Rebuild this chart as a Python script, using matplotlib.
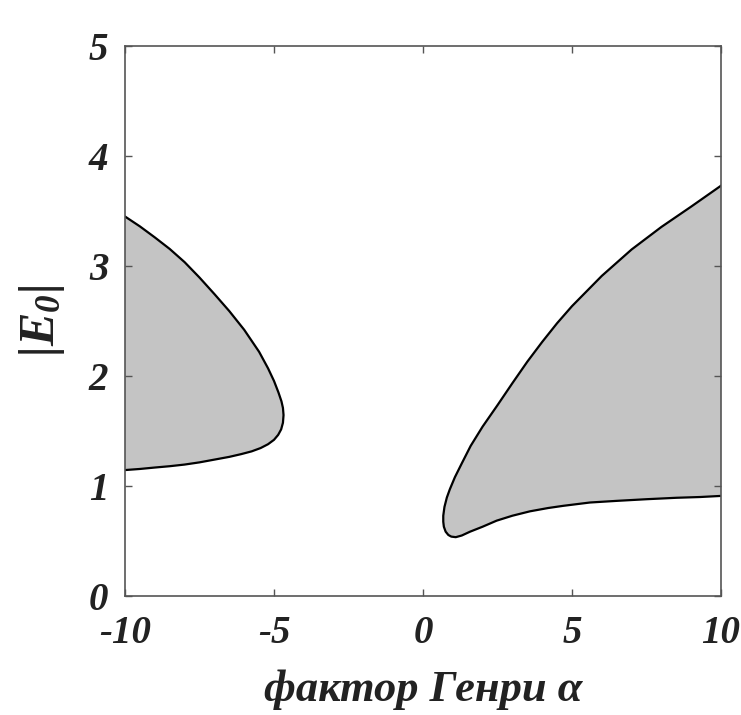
import matplotlib
matplotlib.use("Agg")
import matplotlib.pyplot as plt

# Left region boundary (upper branch -> tip -> lower branch)
left_alpha = [-10.0, -9.5, -9.0, -8.5, -8.0, -7.5, -7.0, -6.5, -6.0, -5.5, -5.2, -5.0,
              -4.85, -4.75, -4.70, -4.68, -4.70, -4.76, -4.86, -5.0, -5.2, -5.45, -5.75,
              -6.1, -6.5, -7.0, -7.5, -8.0, -8.5, -9.0, -9.5, -10.0]
left_E = [3.45, 3.36, 3.26, 3.155, 3.035, 2.895, 2.745, 2.59, 2.42, 2.22, 2.07, 1.955,
          1.85, 1.77, 1.71, 1.645, 1.575, 1.515, 1.465, 1.42, 1.38, 1.345, 1.315,
          1.29, 1.265, 1.24, 1.215, 1.195, 1.18, 1.168, 1.155, 1.145]

# Right region boundary (upper branch -> tip -> lower branch)
right_alpha = [10.0, 9.0, 8.0, 7.0, 6.0, 5.0, 4.5, 4.0, 3.5, 3.0, 2.5, 2.0, 1.6, 1.3,
               1.07, 0.9, 0.8, 0.72, 0.68, 0.68, 0.70, 0.76, 0.85, 0.95, 1.1, 1.3,
               1.58, 2.0, 2.47, 3.0, 3.59, 4.2, 4.71, 5.6, 6.5, 7.5, 8.5, 9.3, 10.0]
right_E = [3.73, 3.54, 3.355, 3.15, 2.91, 2.635, 2.48, 2.31, 2.13, 1.935, 1.735, 1.54,
           1.365, 1.205, 1.08, 0.97, 0.895, 0.81, 0.73, 0.675, 0.63, 0.585, 0.555,
           0.54, 0.535, 0.55, 0.585, 0.63, 0.685, 0.73, 0.77, 0.80, 0.82, 0.85,
           0.865, 0.88, 0.893, 0.90, 0.91]

x_ticks = [-10, -5, 0, 5, 10]
y_ticks = [0, 1, 2, 3, 4, 5]
x_label = "фактор Генри α"
y_label = r"$|E_0|$"

plt.rcParams['mathtext.fontset'] = 'custom'
plt.rcParams['mathtext.rm'] = 'Liberation Serif:bold:italic'
plt.rcParams['mathtext.it'] = 'Liberation Serif:bold:italic'
plt.rcParams['mathtext.bf'] = 'Liberation Serif:bold:italic'

fig = plt.figure(figsize=(7.41, 7.15), dpi=100)
ax = fig.add_axes([0.1687, 0.1664, 0.973 - 0.1687, 0.9357 - 0.1664])

fill_c = '#c4c4c4'
ax.fill(left_alpha, left_E, color=fill_c, lw=0)
ax.fill(right_alpha, right_E, color=fill_c, lw=0)
ax.plot(left_alpha, left_E, color='black', lw=1.6, solid_joinstyle='round')
ax.plot(right_alpha, right_E, color='black', lw=1.6, solid_joinstyle='round')

ax.set_xlim(-10, 10)
ax.set_ylim(0, 5)
ax.set_xticks(x_ticks)
ax.set_yticks(y_ticks)
ax.set_xticklabels([str(v) for v in x_ticks])
ax.set_yticklabels([str(v) for v in y_ticks])

for s in ax.spines.values():
    s.set_color('#555555')
    s.set_linewidth(1.2)
ax.tick_params(direction='in', length=5, width=1, colors='#555555',
               top=True, right=True, labelcolor='#222222')
ax.tick_params(axis='x', pad=14)
ax.tick_params(axis='y', pad=12)

for lab in ax.get_xticklabels() + ax.get_yticklabels():
    lab.set_fontfamily('Liberation Serif')
    lab.set_fontweight('bold')
    lab.set_fontstyle('italic')
    lab.set_fontsize(28)

tfont = dict(family='Liberation Serif', weight='bold', style='italic', size=32)
ax.set_xlabel(x_label, fontdict=tfont, color='#222222', labelpad=12)
ax.set_ylabel(y_label, fontsize=36, color='#222222', labelpad=16)

fig.savefig('out.png', dpi=100)
